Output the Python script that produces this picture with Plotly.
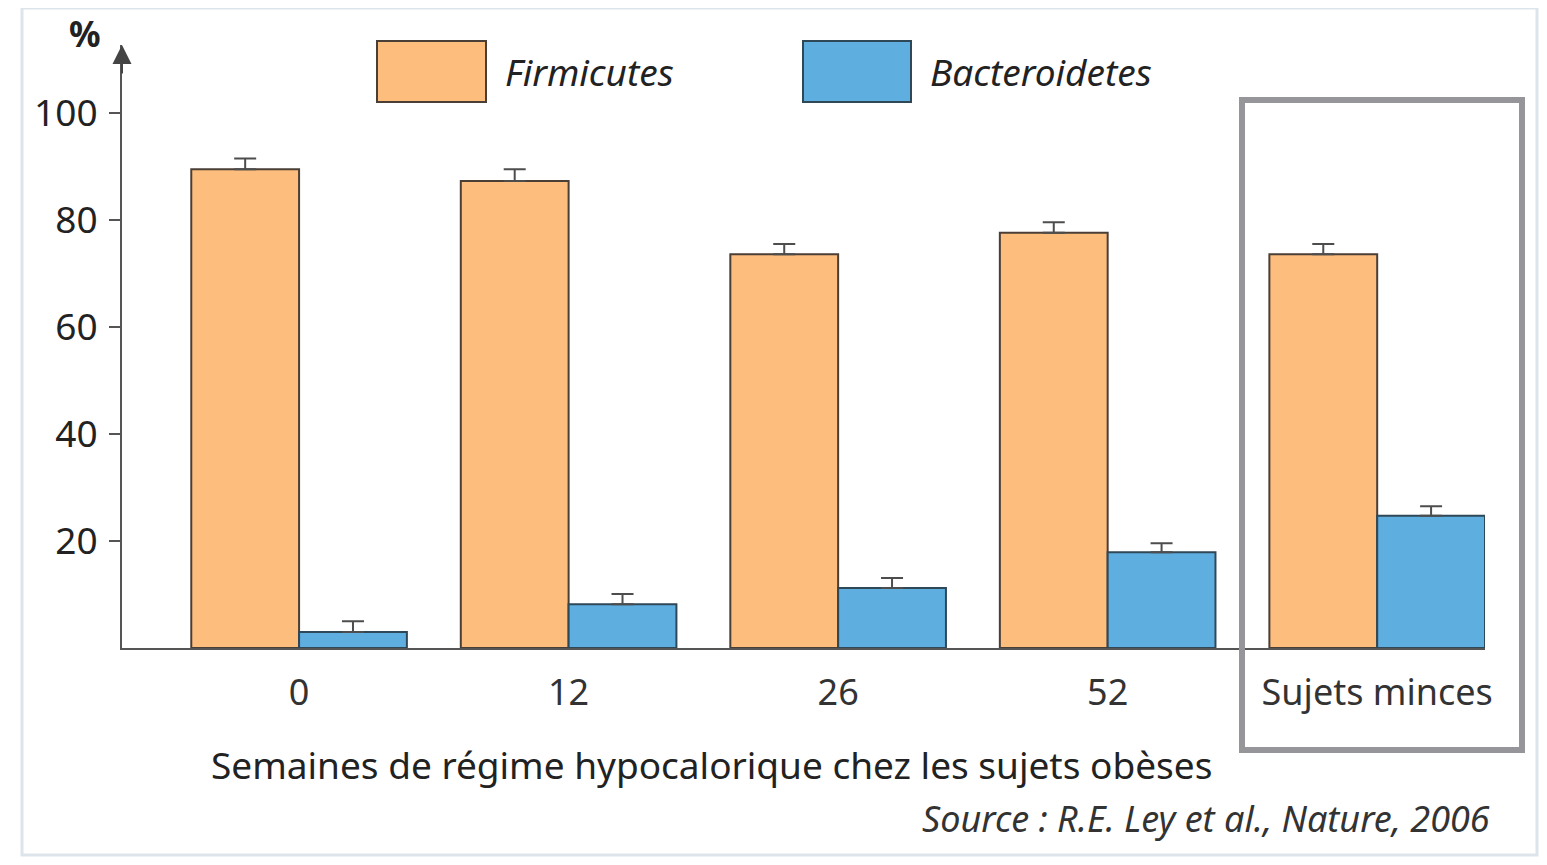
import plotly.graph_objects as go

categories = ["0", "12", "26", "52", "Sujets minces"]
firmicutes = [89.5, 87.3, 73.6, 77.6, 73.6]
firmicutes_err = [2.0, 2.2, 1.9, 2.0, 1.9]
bacteroidetes = [3.0, 8.2, 11.2, 17.9, 24.7]
bacteroidetes_err = [2.0, 1.9, 1.9, 1.7, 1.8]
y_ticks = [20, 40, 60, 80, 100]

OFF = 8  # page body margin
W, H = 1531, 849
# plot area in reference-window pixels
L, R, T, B = 122, 1485, 45, 648

def px(x):
    return (x - L) / (R - L)

def py(y):
    return (B - y) / (B - T)

ORANGE = "#FDBD7D"
BLUE = "#5FAEE0"
OUTLINE = "#4a3f36"
FONT = "Noto Sans"

fig = go.Figure()
fig.add_trace(go.Bar(
    x=categories, y=firmicutes, name="Firmicutes",
    marker=dict(color=ORANGE, line=dict(color=OUTLINE, width=2)),
    error_y=dict(type="data", array=firmicutes_err, arrayminus=[0]*5, symmetric=False,
                 color="#4d4d4d", thickness=2, width=11),
    showlegend=False,
))
fig.add_trace(go.Bar(
    x=categories, y=bacteroidetes, name="Bacteroidetes",
    marker=dict(color=BLUE, line=dict(color="#2f4858", width=2)),
    error_y=dict(type="data", array=bacteroidetes_err, arrayminus=[0]*5, symmetric=False,
                 color="#4d4d4d", thickness=2, width=11),
    showlegend=False,
))

shapes = [
    dict(type="rect", xref="paper", yref="paper", x0=px(22), x1=px(1537), y0=py(855), y1=py(8),
         line=dict(color="#dde5ea", width=3), layer="below"),
    dict(type="rect", xref="paper", yref="paper", x0=px(1242), x1=px(1522), y0=py(750), y1=py(100),
         line=dict(color="#96969a", width=6), layer="above"),
    dict(type="rect", xref="paper", yref="paper", x0=px(377), x1=px(486), y0=py(102), y1=py(41),
         fillcolor=ORANGE, line=dict(color=OUTLINE, width=2)),
    dict(type="rect", xref="paper", yref="paper", x0=px(803), x1=px(911), y0=py(102), y1=py(41),
         fillcolor=BLUE, line=dict(color="#2f4858", width=2)),
]

annotations = [
    dict(xref="paper", yref="paper", x=px(503), y=py(71), text="<i>Firmicutes</i>", showarrow=False,
         xanchor="left", yanchor="middle", font=dict(family=FONT, size=37, color="#222")),
    dict(xref="paper", yref="paper", x=px(928), y=py(71), text="<i>Bacteroidetes</i>", showarrow=False,
         xanchor="left", yanchor="middle", font=dict(family=FONT, size=37, color="#222")),
    dict(xref="paper", yref="paper", x=px(85), y=py(34), text="<b>%</b>", showarrow=False,
         xanchor="center", yanchor="middle", font=dict(family=FONT, size=35, color="#222")),
    dict(xref="paper", yref="paper", x=px(711), y=py(765),
         text="Semaines de régime hypocalorique chez les sujets obèses", showarrow=False,
         xanchor="center", yanchor="middle", font=dict(family=FONT, size=37, color="#222")),
    dict(xref="paper", yref="paper", x=px(1492), y=py(818),
         text="<i>Source : R.E. Ley et al., Nature, 2006</i>", showarrow=False,
         xanchor="right", yanchor="middle", font=dict(family=FONT, size=36, color="#333")),
    dict(xref="paper", yref="paper", x=0, y=1.0, ax=0, ay=30, text="", showarrow=True,
         arrowhead=2, arrowsize=1.9, arrowwidth=2, arrowcolor="#444"),
]

fig.update_layout(
    width=W, height=H,
    margin=dict(l=L - OFF, r=W - (R - OFF), t=T - OFF, b=H - (B - OFF), pad=0),
    paper_bgcolor="white", plot_bgcolor="white",
    barmode="group", bargap=0.2, bargroupgap=0,
    shapes=shapes, annotations=annotations,
    font=dict(family=FONT, color="#222"),
    xaxis=dict(
        type="category", range=[-0.657, 4.4], showgrid=False, zeroline=False,
        showline=True, linecolor="#555", linewidth=2, ticks="",
        tickfont=dict(family=FONT, size=36, color="#333"), ticklabelstandoff=12,
    ),
    yaxis=dict(
        range=[0, (B - T) / ((B - 113) / 100)], showgrid=False, zeroline=False,
        showline=True, linecolor="#555", linewidth=2,
        tickvals=y_ticks, ticks="outside", ticklen=11, tickwidth=2, tickcolor="#555",
        tickfont=dict(family=FONT, size=37, color="#222"), ticklabelstandoff=4,
    ),
)

fig.write_html("out.html")
